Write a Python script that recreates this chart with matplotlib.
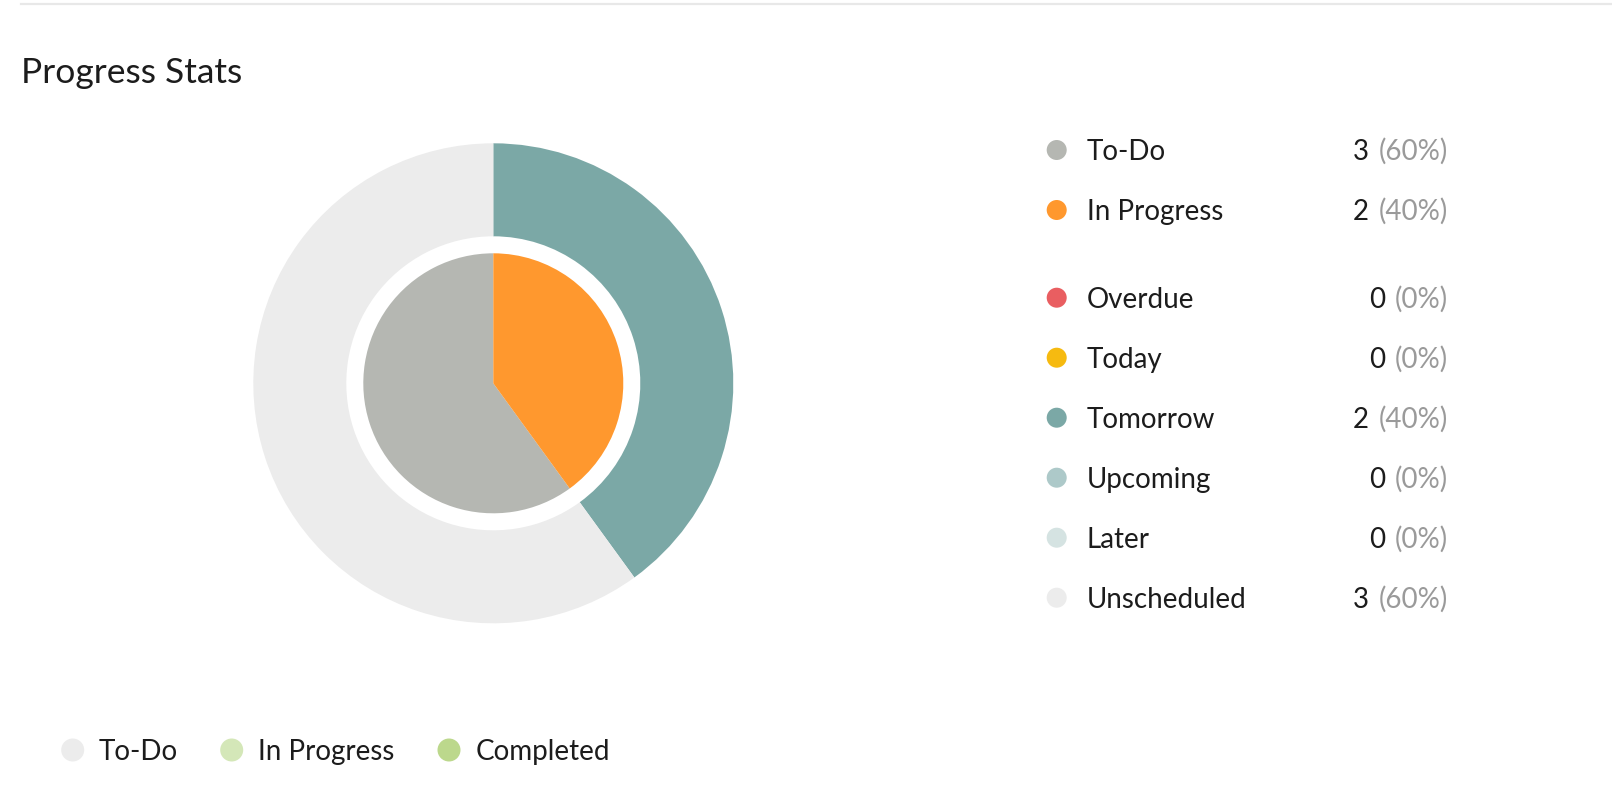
import matplotlib
matplotlib.use("Agg")
import matplotlib.pyplot as plt
from matplotlib.patches import Circle
from matplotlib.lines import Line2D

plt.rcParams['font.family'] = ['Lato', 'DejaVu Sans']

# ---------------- data ----------------
title = "Progress Stats"

status_labels = ["To-Do", "In Progress"]
status_counts = [3, 2]
status_colors = ["#b5b7b2", "#ff982e"]

schedule_labels = ["Overdue", "Today", "Tomorrow", "Upcoming", "Later", "Unscheduled"]
schedule_counts = [0, 0, 2, 0, 0, 3]
schedule_colors = ["#e95e61", "#f6ba10", "#7ba8a6", "#adc9c9", "#d5e3e2", "#ececec"]

bottom_labels = ["To-Do", "In Progress", "Completed"]
bottom_colors = ["#ececec", "#d4e7b8", "#bcd88c"]

total = sum(status_counts)

# ---------------- figure ----------------
W, H = 1612, 788
fig = plt.figure(figsize=(W / 100, H / 100), dpi=100)
fig.patch.set_facecolor("white")

# overlay axes in pixel coordinates (y downward)
ov = fig.add_axes([0, 0, 1, 1])
ov.set_xlim(0, W)
ov.set_ylim(H, 0)
ov.axis("off")

TXT = "#1c1c1c"
GRAY = "#9a9a9a"

# top divider line
ov.add_line(Line2D([21, W], [3.5, 3.5], color="#e8e8e8", lw=1.6))

# title
ov.text(21, 83.3, title, fontsize=25.5, color=TXT, ha="left", va="baseline")

# ---------------- donut ----------------
cx, cy = 493.3, 383.3
half = 250
ax = fig.add_axes([(cx - half) / W, (H - cy - half) / H, 2 * half / W, 2 * half / H])
ax.set_xlim(-half, half)
ax.set_ylim(-half, half)
ax.set_aspect("equal")
ax.axis("off")

ax.pie(schedule_counts, colors=schedule_colors, radius=240, startangle=90,
       counterclock=False, wedgeprops=dict(width=93, linewidth=0))
ax.pie(status_counts, colors=status_colors, radius=130, startangle=90,
       counterclock=True, wedgeprops=dict(linewidth=0))
ax.set_xlim(-half, half)
ax.set_ylim(-half, half)

# ---------------- right legend ----------------
rows = list(zip(status_labels, status_counts, status_colors)) + \
       list(zip(schedule_labels, schedule_counts, schedule_colors))
row_y = [150, 210, 297.7, 357.7, 417.7, 477.7, 537.7, 597.7]
dot_x = 1056.7
label_x = 1086.8
pct_right = 1447.5
fs = 20

renderer = fig.canvas.get_renderer()
for (lab, cnt, col), y in zip(rows, row_y):
    ov.add_patch(Circle((dot_x, y), 10, color=col, lw=0))
    ov.text(label_x, y + 10, lab, fontsize=fs, color=TXT, ha="left", va="baseline")
    pct = ov.text(pct_right, y + 10, f"({round(100 * cnt / total)}%)", fontsize=fs,
                  color=GRAY, ha="right", va="baseline")
    bb = pct.get_window_extent(renderer)
    ov.text(bb.x0 - 9.5, y + 10, f"{cnt}", fontsize=fs, color=TXT, ha="right", va="baseline")

# ---------------- bottom legend ----------------
bot_dot_x = [72.7, 231.7, 449.0]
bot_text_x = [98.5, 257.8, 475.2]
for lab, col, dx, tx in zip(bottom_labels, bottom_colors, bot_dot_x, bot_text_x):
    ov.add_patch(Circle((dx, 750), 11.5, color=col, lw=0))
    ov.text(tx, 760, lab, fontsize=fs, color=TXT, ha="left", va="baseline")

fig.savefig("out.png", dpi=100, facecolor="white")
